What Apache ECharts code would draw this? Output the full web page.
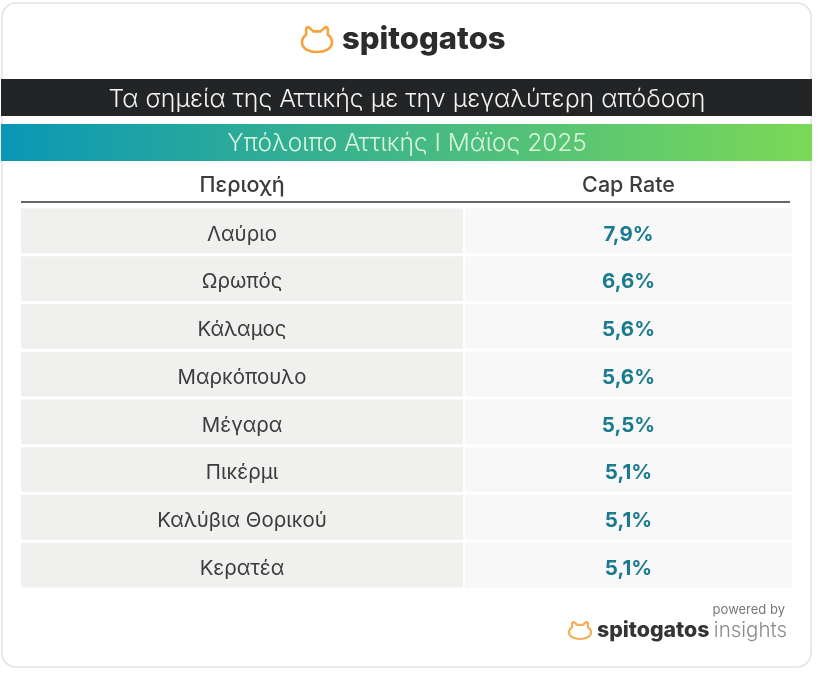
<!DOCTYPE html>
<html>
<head>
<meta charset="utf-8">
<style>
  html, body { margin: 0; padding: 0; background: #fff; }
  #chart { width: 820px; height: 675px; }
</style>
<script src="https://cdn.jsdelivr.net/npm/echarts@6/dist/echarts.min.js"></script>
</head>
<body>
<div id="chart"></div>
<script>
var titleText = 'Τα σημεία της Αττικής με την μεγαλύτερη απόδοση';
var subtitleText = 'Υπόλοιπο Αττικής Ι Μάϊος 2025';
var columns = ['Περιοχή', 'Cap Rate'];
var regions = ['Λαύριο', 'Ωρωπός', 'Κάλαμος', 'Μαρκόπουλο', 'Μέγαρα', 'Πικέρμι', 'Καλύβια Θορικού', 'Κερατέα'];
var capRates = [7.9, 6.6, 5.6, 5.6, 5.5, 5.1, 5.1, 5.1];

var FONT = 'Inter, "Noto Sans", sans-serif';
var catPath = 'M7 1 Q10 3 12 5 L19 5 Q21 3 24 1 Q26 1 26 4 L26 8 Q30 11 30 15 C30 21 23 24 15.5 24 C8 24 1 21 1 15 Q1 11 5 8 L5 4 Q5 1 7 1 Z';

function formatRate(v) {
  return v.toFixed(1).replace('.', ',') + '%';
}

// one cell per row, the band of the y axis gives its height
function cellRenderer(fill, textStyle) {
  return function (params, api) {
    var p = api.coord([api.value(0), api.value(1)]);
    var size = api.size([1, 1]);
    var label = textStyle.rate ? formatRate(capRates[params.dataIndex]) : regions[params.dataIndex];
    return {
      type: 'group',
      children: [{
        type: 'rect',
        shape: { x: p[0] - size[0] / 2, y: p[1] - size[1] / 2 + 1.5, width: size[0], height: size[1] - 3 },
        style: { fill: fill }
      }, {
        type: 'text',
        style: {
          x: p[0],
          y: p[1] + 3.5,
          text: label,
          align: 'center',
          verticalAlign: 'middle',
          font: textStyle.font,
          fill: textStyle.color
        }
      }]
    };
  };
}

// the cat icon, the graphic component has no free path element
function catIcon(x, y, width, height, color, lineWidth) {
  return {
    type: 'path',
    shape: { pathData: catPath, x: x, y: y, width: width, height: height, layout: 'cover' },
    style: { fill: 'none', stroke: color, lineWidth: lineWidth }
  };
}

function columnData() {
  return regions.map(function (r) { return [0, r]; });
}

function xAxisFor(name, gridIndex) {
  return {
    type: 'category',
    gridIndex: gridIndex,
    position: 'top',
    data: [name],
    axisLine: { show: false },
    axisTick: { show: false },
    axisLabel: { margin: 10, fontFamily: FONT, fontSize: 21.5, fontWeight: 500, color: '#3d3d3d' }
  };
}

function yAxisFor(gridIndex) {
  return { type: 'category', gridIndex: gridIndex, inverse: true, data: regions, show: false };
}

var chart = echarts.init(document.getElementById('chart'));
chart.setOption({
  animation: false,
  backgroundColor: '#fff',
  title: [{
    text: titleText,
    left: 402, top: 82, textAlign: 'center',
    textStyle: { fontFamily: FONT, fontSize: 24.8, fontWeight: 300, color: '#f4f4f4' }
  }, {
    text: subtitleText,
    left: 402, top: 126, textAlign: 'center',
    textStyle: { fontFamily: FONT, fontSize: 24.5, fontWeight: 300, color: '#d9f5dc' }
  }],
  grid: [
    { left: 21, top: 207, width: 442, height: 382 },
    { left: 465, top: 207, width: 327, height: 382 }
  ],
  xAxis: [xAxisFor(columns[0], 0), xAxisFor(columns[1], 1)],
  yAxis: [yAxisFor(0), yAxisFor(1)],
  series: [{
    type: 'custom',
    xAxisIndex: 0, yAxisIndex: 0,
    encode: { x: 0, y: 1 },
    data: columnData(),
    renderItem: cellRenderer('#f0f0ef', { font: '400 20.4px ' + FONT, color: '#3c3c3c' })
  }, {
    type: 'custom',
    xAxisIndex: 1, yAxisIndex: 1,
    encode: { x: 0, y: 1 },
    data: columnData(),
    renderItem: cellRenderer('#f8f8f8', { rate: true, font: '700 20.5px ' + FONT, color: '#1a7a8e' })
  }, {
    type: 'custom',
    coordinateSystem: 'none',
    silent: true,
    data: [0],
    renderItem: function () {
      return {
        type: 'group',
        children: [
          catIcon(302, 27, 30, 25, '#f5a33c', 2.6),
          catIcon(569, 622, 22, 17, '#f5ae5a', 2.2)
        ]
      };
    }
  }],
  graphic: [
    // card
    { type: 'rect', z: -10, shape: { x: 2, y: 3, width: 809, height: 664, r: 14 }, style: { fill: '#fff', stroke: '#e3e3e3', lineWidth: 1.5 } },
    // header bars
    { type: 'rect', z: -5, shape: { x: 1, y: 79, width: 811, height: 37 }, style: { fill: '#232426' } },
    {
      type: 'rect', z: -5, shape: { x: 1, y: 124, width: 811, height: 37 },
      style: { fill: new echarts.graphic.LinearGradient(0, 0, 1, 0, [{ offset: 0, color: '#0a97b6' }, { offset: 1, color: '#7bd956' }]) }
    },
    // rule under the column names
    { type: 'line', z: 5, shape: { x1: 21, y1: 202, x2: 790, y2: 202 }, style: { stroke: '#333', lineWidth: 1.5 } },
    // logos
    { type: 'text', x: 342, y: 40, style: { text: 'spitogatos', font: '800 31px ' + FONT, fill: '#2b2c2e', verticalAlign: 'middle' } },
    { type: 'text', x: 597, y: 631, style: { text: 'spitogatos', font: '800 21.3px ' + FONT, fill: '#333436', verticalAlign: 'middle' } },
    { type: 'text', x: 787, y: 631, style: { text: 'insights', font: '300 20.5px ' + FONT, fill: '#8a8a8a', align: 'right', verticalAlign: 'middle' } },
    { type: 'text', x: 785, y: 610, style: { text: 'powered by', font: '400 13px ' + FONT, fill: '#777', align: 'right', verticalAlign: 'middle' } }
  ]
});
</script>
</body>
</html>
